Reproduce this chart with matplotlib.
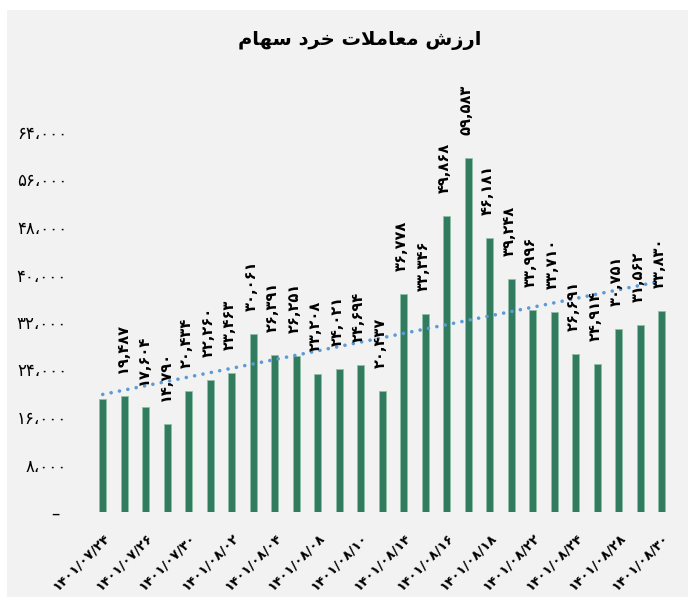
import numpy as np
import matplotlib.pyplot as plt
from matplotlib.patches import Rectangle

# trading days, 1401/07/24 .. 1401/08/30
dates = ["1401/07/24", "1401/07/25", "1401/07/26", "1401/07/27", "1401/07/30",
         "1401/08/01", "1401/08/02", "1401/08/03", "1401/08/04", "1401/08/07",
         "1401/08/08", "1401/08/09", "1401/08/10", "1401/08/11", "1401/08/14",
         "1401/08/15", "1401/08/16", "1401/08/17", "1401/08/18", "1401/08/21",
         "1401/08/22", "1401/08/23", "1401/08/24", "1401/08/25", "1401/08/28",
         "1401/08/29", "1401/08/30"]
values = [18980, 19487, 17604, 14790, 20434, 22260, 23463, 30061, 26391,
          26251, 23208, 24021, 24694, 20437, 36778, 33346, 49868, 59583,
          46181, 39248, 33996, 33710, 26691, 24914, 30751, 31562, 33830]
# first bar has no data label in the original
show_label = [False] + [True] * 26

# title in presentation forms, visual order (ارزش معاملات خرد سهام)
title_logical = ("\uFE8D\uFEAD\uFEAF\uFEB5 "
                 "\uFEE3\uFECC\uFE8E\uFEE3\uFEFC\uFE95 "
                 "\uFEA7\uFEAE\uFEA9 "
                 "\uFEB3\uFEEC\uFE8E\uFEE1")
TITLE = title_logical[::-1]

FA = str.maketrans("0123456789", "۰۱۲۳۴۵۶۷۸۹")


def fa(s):
    return s.translate(FA)


plt.rcParams["font.family"] = ["DejaVu Sans"]

fig = plt.figure(figsize=(6.88, 5.97), dpi=100, facecolor="white")
fig.patches.append(Rectangle((7 / 688, 0), 1, 1 - 10 / 597, transform=fig.transFigure,
                             facecolor="#f2f2f2", edgecolor="none", zorder=-10))

ax = fig.add_axes([92 / 688, 1 - 512 / 597, 580.5 / 688, 427.5 / 597])
ax.set_facecolor("none")

x = np.arange(len(values))
ax.bar(x, values, width=0.31, color="#317c5f", edgecolor="#8fbfa8", linewidth=0.6, zorder=2)

# linear trend
k, b = np.polyfit(x, values, 1)
ax.plot(x, k * x + b, color="#5b9bd5", lw=2.6, linestyle=(0, (0.01, 2.35)),
        dash_capstyle="round", zorder=3)

for xi, v, show in zip(x, values, show_label):
    if show:
        ax.annotate(fa(f"{v:,}"), (xi, v), xytext=(-1.5, 16.5), textcoords="offset points",
                    rotation=90, ha="center", va="bottom", fontsize=10.5,
                    fontweight="bold", color="black")

ax.set_xlim(-0.5, len(values) - 0.5)
ax.set_ylim(0, 72000)
yt = np.arange(0, 64001, 8000)
ax.set_yticks(yt)
ax.set_yticklabels(["–\u2006\u2009" if t == 0 else fa(f"{t:,}").replace(",", "،") for t in yt],
                   fontsize=12)
ax.set_xticks(x[::2])
ax.set_xticklabels([fa(d) for d in dates[::2]], rotation=45, ha="right",
                   rotation_mode="anchor", fontsize=9.5, fontweight="bold")
ax.tick_params(axis="both", length=0)
ax.tick_params(axis="y", pad=18)
ax.tick_params(axis="x", pad=14)
for s in ax.spines.values():
    s.set_visible(False)

fig.text(360 / 688, 1 - 41 / 597, TITLE, ha="center", va="center", fontsize=14,
         fontweight="bold")

fig.savefig("out.png", dpi=100, facecolor=fig.get_facecolor())
